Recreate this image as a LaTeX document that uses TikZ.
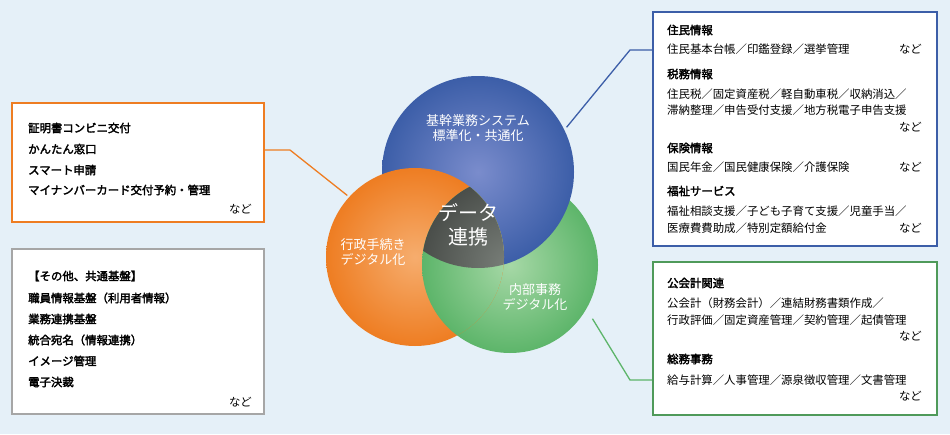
\documentclass[tikz,border=0pt]{standalone}
\usepackage{fontspec}
\setmainfont{Noto Sans CJK JP}[AutoFakeBold=2.5]
\begin{document}
\begin{tikzpicture}[x=1pt,y=-1pt,
  box/.style={draw=#1,line width=1.5pt,fill=white},
  conn/.style={draw=#1,line width=1.3pt},
  t/.style={anchor=west,inner sep=0pt,font=\fontsize{11.4}{13}\selectfont},
  h/.style={t,font=\fontsize{11.4}{13}\selectfont\bfseries},
  nado/.style={anchor=east,inner sep=0pt,font=\fontsize{11.4}{13}\selectfont},
  ctext/.style={text=white,align=center,font=\fontsize{13}{15.5}\selectfont}]
\definecolor{bg}{HTML}{E5F0F8}
\definecolor{cb}{HTML}{3C5EA8}\definecolor{cbl}{HTML}{7A8CCC}
\definecolor{co}{HTML}{EE7D22}\definecolor{col}{HTML}{F6AD6E}
\definecolor{cg}{HTML}{5DB56A}\definecolor{cgl}{HTML}{A6D8A6}
\definecolor{cd}{HTML}{4A4E4A}\definecolor{cdl}{HTML}{7A807A}
\fill[bg] (0,0) rectangle (950,434);
\coordinate (B) at (478,172); \coordinate (O) at (415,257); \coordinate (G) at (510,265);
\def\rB{96}\def\rO{89}\def\rG{88}
% connectors
\coordinate (ob) at (290,150); \coordinate (bb) at (630,50); \coordinate (gb) at (630,380);
\node[inner sep=0pt] (oc) at (348,196) {}; \node[inner sep=0pt] (bc) at (566,128) {}; \node[inner sep=0pt] (gc) at (592,318) {};
\draw[conn=co] (264,150) -- (ob) -- (oc);
\draw[conn=cb] (653,50) -- (bb) -- (bc);
\draw[conn=cg] (653,380) -- (gb) -- (gc);
% circles
\shade[inner color=cgl,outer color=cg] (G) circle (\rG);
\shade[inner color=cbl,outer color=cb] (B) circle (\rB);
\shade[inner color=col,outer color=co] (O) circle (\rO);
\begin{scope}\clip (O) circle (\rO);
\shade[inner color=cgl,outer color=cg] (G) circle (\rG);\end{scope}
\begin{scope}\clip (B) circle (\rB);\clip (O) circle (\rO);
\shade[inner color=cdl,outer color=cd] (G) circle (\rG);\end{scope}
\node[ctext] (tb) at (478,128) {基幹業務システム\\標準化・共通化};
\node[ctext] (to) at (373,252) {行政手続き\\デジタル化};
\node[ctext] (tg) at (535,297) {内部事務\\デジタル化};
\node[ctext,font=\fontsize{20}{24}\selectfont] (td) at (468,225) {データ\\連携};
% boxes
\draw[box=co] (12,103) rectangle (264,222);
\draw[box=gray!70] (12,249) rectangle (264,414);
\draw[box=cb] (653,12) rectangle (937,246);
\draw[box=cg!85!black] (653,262) rectangle (937,415);
% left orange
\node[h] (l1) at (28,128) {証明書コンビニ交付};
\node[h] (l2) at (28,149) {かんたん窓口};
\node[h] (l3) at (28,170) {スマート申請};
\node[h] (l4) at (28,190) {マイナンバーカード交付予約・管理};
\node[nado] (l5) at (252,209) {など};
% gray
\node[h] (g1) at (28,276) {【その他、共通基盤】};
\node[h] (g2) at (28,298) {職員情報基盤（利用者情報）};
\node[h] (g3) at (28,319) {業務連携基盤};
\node[h] (g4) at (28,340) {統合宛名（情報連携）};
\node[h] (g5) at (28,361) {イメージ管理};
\node[h] (g6) at (28,382) {電子決裁};
\node[nado] (g7) at (252,402) {など};
% blue
\node[h] (b1) at (667,30) {住民情報};
\node[t] (b2) at (667,49) {住民基本台帳／印鑑登録／選挙管理};
\node[nado] (b2n) at (922,49) {など};
\node[h] (b3) at (667,74) {税務情報};
\node[t] (b4) at (667,94) {住民税／固定資産税／軽自動車税／収納消込／};
\node[t] (b5) at (667,110) {滞納整理／申告受付支援／地方税電子申告支援};
\node[nado] (b5n) at (922,127) {など};
\node[h] (b6) at (667,148) {保険情報};
\node[t] (b7) at (667,167) {国民年金／国民健康保険／介護保険};
\node[nado] (b7n) at (922,167) {など};
\node[h] (b8) at (667,191) {福祉サービス};
\node[t] (b9) at (667,211) {福祉相談支援／子ども子育て支援／児童手当／};
\node[t] (b10) at (667,228) {医療費費助成／特別定額給付金};
\node[nado] (b10n) at (922,228) {など};
% green
\node[h] (e1) at (667,283) {公会計関連};
\node[t] (e2) at (667,303) {公会計（財務会計）／連結財務書類作成／};
\node[t] (e3) at (667,320) {行政評価／固定資産管理／契約管理／起債管理};
\node[nado] (e3n) at (922,336) {など};
\node[h] (e4) at (667,359) {総務事務};
\node[t] (e5) at (667,380) {給与計算／人事管理／源泉徴収管理／文書管理};
\node[nado] (e5n) at (922,396) {など};
\end{tikzpicture}
\end{document}
